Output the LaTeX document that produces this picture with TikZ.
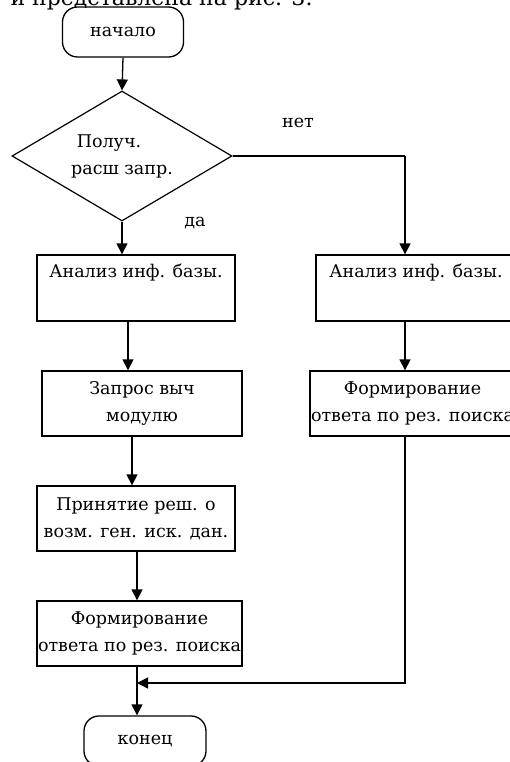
\documentclass[tikz,border=0pt]{standalone}
\usepackage{fontspec}
\setmainfont{DejaVu Serif}
\usetikzlibrary{arrows.meta,shapes.geometric,calc}
\begin{document}
\begin{tikzpicture}[x=1pt,y=-1pt,
  every node/.style={font=\fontsize{17.5}{27}\selectfont, inner sep=0pt},
  box/.style={draw, line width=1.3pt, rectangle, align=center},
  term/.style={draw, line width=1.3pt, rectangle, rounded corners=15pt, align=center},
  dec/.style={draw, line width=1.2pt, diamond, shape aspect=1.7, align=center},
  lbl/.style={},
  arr/.style={line width=1.3pt, -{Triangle[width=11pt,length=11pt]}},
  ln/.style={line width=1.3pt}]
\useasboundingbox (0,0) rectangle (510,762);
\clip (0,0) rectangle (510,762);
\fill[white] (0,0) rectangle (510,762);
\node[anchor=base east, font=\fontsize{22}{26}\selectfont] (top) at (313,5.5) {и представлена на рис. 3:};
\node[term, minimum width=121pt, minimum height=50pt] (start) at (123,32) {начало};
\node[dec, minimum width=220pt, minimum height=130pt] (d) at (122,156) {Получ.\hspace*{26pt}\\расш запр.};
\node[box, minimum width=198pt, minimum height=66pt] (a1) at (136,288) {Анализ инф. базы.\\\strut};
\node[box, minimum width=200pt, minimum height=65pt] (a2) at (142,403.5) {Запрос выч\\модулю};
\node[box, minimum width=198pt, minimum height=65pt] (a3) at (136,518.5) {Принятие реш. о\\возм. ген. иск. дан.};
\node[box, minimum width=205pt, minimum height=65pt] (a4) at (139.5,633.5) {Формирование\\ответа по рез. поиска};
\node[term, minimum width=122pt, minimum height=50pt] (end) at (145,741) {конец};
\node[box, minimum width=200pt, minimum height=66pt] (r1) at (416,288) {Анализ инф. базы.\\\strut};
\node[box, minimum width=205pt, minimum height=65pt] (r2) at (412.5,403.5) {Формирование\\ответа по рез. поиска};
\node[lbl] (no) at (298,123) {нет};
\node[lbl] (yes) at (195,223) {да};
\coordinate (j) at (137,683);
\coordinate (br) at (405,156);
\draw[arr] (start.south) -- (d.north);
\draw[arr] (d.south) -- (d.south |- a1.north);
\draw[ln] (d.east) -- (br);
\draw[arr] (br) -- (br |- r1.north);
\draw[arr] ([xshift=-8pt]a1.south) -- ([xshift=-8pt]a1.south |- a2.north);
\draw[arr] ([xshift=-10pt]a2.south) -- ([xshift=-10pt]a2.south |- a3.north);
\draw[arr] ([xshift=1pt]a3.south) -- ([xshift=1pt]a3.south |- a4.north);
\draw[arr] ([xshift=-2.5pt]a4.south) -- ([xshift=-2.5pt]a4.south |- end.north);
\draw[arr] (br |- r1.south) -- (br |- r2.north);
\draw[arr] (br |- r2.south) -- (br |- j) -- (j);
\end{tikzpicture}
\end{document}
